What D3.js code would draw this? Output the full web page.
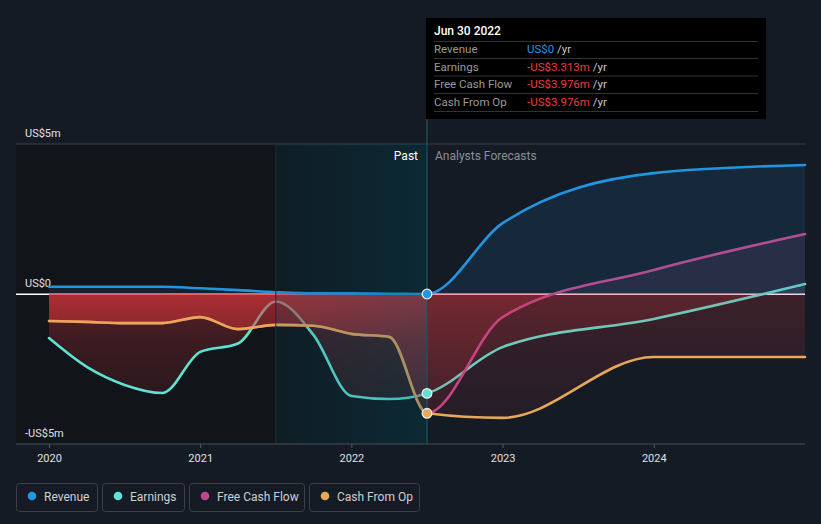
<!DOCTYPE html>
<html><head><meta charset="utf-8">
<script src="https://cdn.jsdelivr.net/npm/d3@7"></script>
<style>
html,body{margin:0;padding:0;background:#151b25;}
svg{display:block;font-family:Roboto,"Noto Sans",sans-serif;}
</style></head>
<body><svg id="c" width="821" height="524"></svg>
<script>
// ---------- data ----------
const pastYears = [2020, 2020.25, 2020.5, 2020.75, 2021, 2021.25, 2021.5, 2021.75, 2022, 2022.25, 2022.5];
const revenuePast  = [0.24, 0.24, 0.24, 0.24, 0.19, 0.13, 0.06, 0.02, 0.02, 0.01, 0];
const earningsPast = [-1.47, -2.43, -3.03, -3.3, -1.93, -1.65, -0.25, -1.37, -3.4, -3.5, -3.313];
const cfoPast      = [-0.9, -0.93, -0.97, -0.97, -0.77, -1.17, -1.03, -1.06, -1.33, -1.43, -3.976];
const fcfPast      = [-0.9, -0.93, -0.97, -0.97, -0.77, -1.17, -1.03, -1.06, -1.33, -1.43, -3.976];
const fcYears = [2023, 2024, 2025];
const revenueFc  = [2.36, 4.03, 4.3];
const earningsFc = [-1.77, -0.83, 0.33];
const fcfFc      = [-0.77, 0.8, 2.0];
const cfoFc      = [-4.13, -2.1, -2.1];
const xTicks = [2020, 2021, 2022, 2023, 2024];
const yTicks = [{v:5, t:"US$5m"}, {v:0, t:"US$0"}, {v:-5, t:"-US$5m"}];
const seriesNames = ["Revenue", "Earnings", "Free Cash Flow", "Cash From Op"];
const seriesColors = ["#2394df", "#5ee3d3", "#c4468a", "#e8a855"];
const tipDate = "Jun 30 2022";
const tipValues = ["US$0", "-US$3.313m", "-US$3.976m", "-US$3.976m"];
const nowYear = 2022.5, pastStart = 2021.5;

// ---------- setup ----------
const svg = d3.select("#c");
const pL = 16, pR = 805, pT = 144, pB = 444;
const x = d3.scaleLinear().domain([2020, 2025]).range([49, 805]);
const y = d3.scaleLinear().domain([-5, 5]).range([pB, pT]);
const y0 = y(0), xNow = x(nowYear), xPast = x(pastStart);

const mk = (yrs, vals) => yrs.map((d, i) => ({x: d, v: vals[i]}));
const series = [
  mk(pastYears, revenuePast).concat(mk(fcYears, revenueFc)),
  mk(pastYears, earningsPast).concat(mk(fcYears, earningsFc)),
  mk(pastYears, fcfPast).concat(mk(fcYears, fcfFc)),
  mk(pastYears, cfoPast).concat(mk(fcYears, cfoFc))
];

const defs = svg.append("defs");
function vgrad(id, stops) {
  const g = defs.append("linearGradient").attr("id", id)
    .attr("gradientUnits", "userSpaceOnUse").attr("x1", 0).attr("x2", 0).attr("y1", y0).attr("y2", pB);
  stops.forEach(s => g.append("stop").attr("offset", s[0]).attr("stop-color", "#d8353b").attr("stop-opacity", s[1]));
}
vgrad("gPast", [[0, 0.39], [0.3, 0.22], [1, 0.05]]);
vgrad("gFc", [[0, 0.2], [0.3, 0.15], [1, 0.05]]);
const hg = defs.append("linearGradient").attr("id", "gHi").attr("x1", 0).attr("x2", 1).attr("y1", 0).attr("y2", 0);
hg.append("stop").attr("offset", 0).attr("stop-color", "#005a73").attr("stop-opacity", 0.13);
hg.append("stop").attr("offset", 1).attr("stop-color", "#005a73").attr("stop-opacity", 0.3);
function clip(id, x1, y1, x2, y2) {
  defs.append("clipPath").attr("id", id).append("rect").attr("x", x1).attr("y", y1).attr("width", x2 - x1).attr("height", y2 - y1);
}
clip("cPastNeg", 0, y0, xNow, pB);
clip("cFcNeg", xNow, y0, pR, pB);
clip("cPos", 0, 0, pR, y0);

// ---------- background ----------
svg.append("rect").attr("x", pL).attr("y", pT).attr("width", xNow - pL).attr("height", pB - pT).attr("fill", "#111419");
svg.append("line").attr("x1", pL).attr("x2", pR).attr("y1", pT).attr("y2", pT).attr("stroke", "#3a404a").attr("stroke-width", 1);

// y labels
svg.selectAll(".yl").data(yTicks).enter().append("text")
  .attr("x", 25).attr("y", d => y(d.v) - 7).attr("fill", "#e0e0e0").attr("font-size", 11).text(d => d.t);

// zero line
svg.append("rect").attr("x", pL).attr("y", y0 - 0.5).attr("width", pR - pL).attr("height", 1.5).attr("fill", "#ffffff");

const curve = d3.curveMonotoneX;
const area = d3.area().x(d => x(d.x)).y0(y0).y1(d => y(d.v)).curve(curve);
const line = d3.line().x(d => x(d.x)).y(d => y(d.v)).curve(curve);

function drawArea(i, posOp) {
  const d = area(series[i]);
  svg.append("path").attr("d", d).attr("fill", "url(#gPast)").attr("clip-path", "url(#cPastNeg)");
  svg.append("path").attr("d", d).attr("fill", "url(#gFc)").attr("clip-path", "url(#cFcNeg)");
  svg.append("path").attr("d", d).attr("fill", seriesColors[i]).attr("fill-opacity", posOp).attr("clip-path", "url(#cPos)");
}
function drawLine(i) {
  svg.append("path").attr("d", line(series[i])).attr("fill", "none")
    .attr("stroke", seriesColors[i]).attr("stroke-width", 2.6).attr("stroke-linecap", "round");
}
drawArea(1, 0.1); drawLine(1);
drawArea(2, 0.12); drawLine(2);
drawArea(3, 0.1); drawLine(3);
drawArea(0, 0.12); drawLine(0);

// past highlight overlay
svg.append("rect").attr("x", xPast).attr("y", pT).attr("width", xNow - xPast).attr("height", pB - pT).attr("fill", "url(#gHi)");
svg.append("line").attr("x1", xPast).attr("x2", xPast).attr("y1", pT).attr("y2", pB).attr("stroke", "#1a2e38").attr("stroke-width", 1);
svg.append("line").attr("x1", xNow).attr("x2", xNow).attr("y1", 18).attr("y2", pB).attr("stroke", "#1d5566").attr("stroke-width", 1.2);

// dots at now
const dotIdx = [0, 1, 3];
dotIdx.forEach(i => {
  const p = series[i].find(d => d.x === nowYear);
  svg.append("circle").attr("cx", x(p.x)).attr("cy", y(p.v)).attr("r", 4.8)
    .attr("fill", seriesColors[i]).attr("stroke", "#e8eef2").attr("stroke-width", 1.3);
});

// past / forecast labels
svg.append("text").attr("x", xNow - 9).attr("y", 160).attr("text-anchor", "end").attr("fill", "#ffffff").attr("font-size", 12).text("Past");
svg.append("text").attr("x", xNow + 8).attr("y", 160).attr("fill", "#8a8f96").attr("font-size", 12).text("Analysts Forecasts");

// x axis
const xa = svg.append("g").attr("transform", `translate(0,${pB})`)
  .call(d3.axisBottom(x).tickValues(xTicks).tickFormat(d3.format("d")).tickSize(4).tickPadding(6));
xa.select(".domain").remove();
xa.selectAll(".tick line").attr("stroke", "#555b64");
xa.selectAll(".tick text").attr("fill", "#e0e0e0").attr("font-size", 11).attr("font-family", "Roboto");
svg.append("line").attr("x1", pL).attr("x2", pR).attr("y1", pB).attr("y2", pB).attr("stroke", "#4a505a").attr("stroke-width", 1.2);

// tooltip
const tip = svg.append("g");
tip.append("rect").attr("x", 426).attr("y", 18).attr("width", 340).attr("height", 101).attr("fill", "#000000");
tip.append("text").attr("x", 434).attr("y", 35).attr("fill", "#ffffff").attr("font-size", 12).attr("font-weight", 500).text(tipDate);
const sepY = [41.5, 58.5, 76, 93.5, 111.5];
sepY.forEach(s => tip.append("line").attr("x1", 434).attr("x2", 758).attr("y1", s).attr("y2", s).attr("stroke", "#333333").attr("stroke-width", 1));
const rowY = [53, 70.5, 88, 105.5];
seriesNames.forEach((n, i) => {
  tip.append("text").attr("x", 434).attr("y", rowY[i]).attr("fill", "#9a9a9a").attr("font-size", 11.5).text(n);
  const t = tip.append("text").attr("x", 527).attr("y", rowY[i]).attr("font-size", 11.5);
  t.append("tspan").attr("fill", i === 0 ? "#2394df" : "#ee3b3b").text(tipValues[i]);
  t.append("tspan").attr("fill", "#c8c8c8").text(" /yr");
});

// legend
const legX = [16, 102, 189, 309], legW = [81, 82, 115, 110];
seriesNames.forEach((n, i) => {
  const g = svg.append("g").attr("transform", `translate(${legX[i]},483)`);
  g.append("rect").attr("x", 0.5).attr("y", 0.5).attr("width", legW[i]).attr("height", 28).attr("rx", 3)
    .attr("fill", "none").attr("stroke", "#3a3f48");
  g.append("circle").attr("cx", 16).attr("cy", 13).attr("r", 4.3).attr("fill", seriesColors[i]);
  g.append("text").attr("x", 28).attr("y", 17.5).attr("fill", "#cfcfcf").attr("font-size", 12).text(n);
});
</script></body></html>
